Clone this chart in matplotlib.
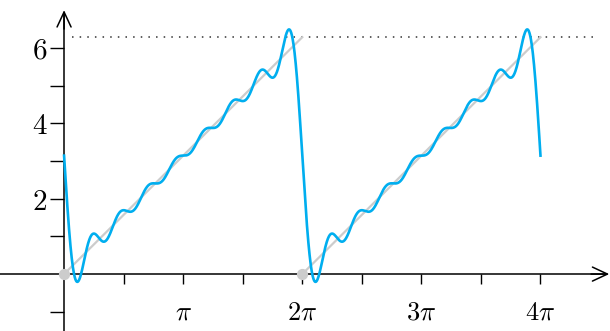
import numpy as np
import matplotlib.pyplot as plt

plt.rcParams['mathtext.fontset'] = 'cm'
plt.rcParams['font.family'] = 'DejaVu Serif'

# sawtooth x mod 2pi, Fourier partial sum with 8 harmonics
offset = np.pi
harmonics = [1, 2, 3, 4, 5, 6, 7, 8]
amplitudes = [-2.0, -1.0, -0.6667, -0.5, -0.4, -0.3333, -0.2857, -0.25]

x_end = 4 * np.pi
ramp_starts = [0, 2 * np.pi]
ramp_ends = [2 * np.pi, 4 * np.pi]
dot_x = [0, 2 * np.pi]
dot_y = [0, 0]
level = 2 * np.pi

x_ticks = [np.pi / 2 * k for k in range(1, 9)]
x_labels = ['', r'$\pi$', '', r'$2\pi$', '', r'$3\pi$', '', r'$4\pi$']
y_ticks = [-1, 1, 2, 3, 4, 5, 6]
y_labels = ['', '', r'$2$', '', r'$4$', '', r'$6$']

BLUE = '#00aeef'
GRAY = '#cccccc'

fig = plt.figure(figsize=(6.10, 3.31), dpi=100)
ax = fig.add_axes([0, 0, 1, 1])

x = np.linspace(0, x_end, 2000)
y = offset + sum(a * np.sin(k * x) for k, a in zip(harmonics, amplitudes))

for s, e in zip(ramp_starts, ramp_ends):
    ax.plot([s, e], [0, e - s], color=GRAY, lw=1.6, zorder=2)
ax.scatter(dot_x, dot_y, s=50, color=GRAY, zorder=3, clip_on=False)
ax.plot([0.2, 14.0], [level, level], color='#333333', lw=1.1,
        linestyle=(0, (1, 4)), zorder=1)
ax.plot(x, y, color=BLUE, lw=1.9, zorder=4)

ax.set_xlim(-1.69, 14.4)
ax.set_ylim(-1.51, 7.27)

for side in ['top', 'right']:
    ax.spines[side].set_visible(False)
ax.spines['left'].set_position(('data', 0))
ax.spines['bottom'].set_position(('data', 0))
ax.spines['left'].set_bounds(-1.51, 6.9)
ax.spines['bottom'].set_bounds(-1.69, 14.3)
for sp in ax.spines.values():
    sp.set_linewidth(1.1)

arrow = dict(arrowstyle='->, head_length=0.6, head_width=0.28', lw=1.1,
             mutation_scale=18, shrinkA=0, shrinkB=0)
ax.annotate('', xy=(0, 7.0), xytext=(0, 6.5), arrowprops=arrow)
ax.annotate('', xy=(14.38, 0), xytext=(13.9, 0), arrowprops=arrow,
            annotation_clip=False)

ax.set_xticks(x_ticks)
ax.set_xticklabels(x_labels, fontsize=19)
ax.set_yticks(y_ticks)
ax.set_yticklabels(y_labels, fontsize=21)
ax.tick_params(axis='x', direction='out', length=7, width=1.0, pad=11)
ax.tick_params(axis='y', direction='out', length=10, width=1.0, pad=2)

fig.savefig('out.png', dpi=100)
